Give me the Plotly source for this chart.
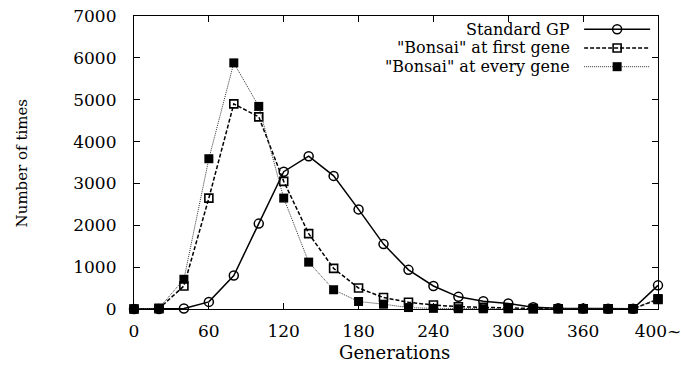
import plotly.graph_objects as go

generations = [0, 20, 40, 60, 80, 100, 120, 140, 160, 180, 200, 220, 240, 260, 280, 300,
               320, 340, 360, 380, 400, 420]
standard_gp = [0, 0, 10, 170, 800, 2040, 3280, 3650, 3180, 2380, 1550, 935, 550, 290, 185, 130,
               40, 20, 10, 5, 5, 565]
bonsai_first = [0, 10, 550, 2650, 4900, 4590, 3050, 1800, 970, 500, 275, 160, 95, 55, 40, 20,
                10, 5, 5, 5, 5, 230]
bonsai_every = [0, 20, 710, 3590, 5880, 4840, 2650, 1120, 460, 180, 115, 35, 15, 8, 5, 5,
                5, 5, 5, 5, 5, 250]
series_names = ["Standard GP", '"Bonsai" at first gene', '"Bonsai" at every gene']
x_tickvals = [0, 60, 120, 180, 240, 300, 360, 420]
x_ticktext = ["0", "60", "120", "180", "240", "300", "360", "400~"]
y_tickvals = [0, 1000, 2000, 3000, 4000, 5000, 6000, 7000]

FONT = "DejaVu Serif"
FS = 17
styles = [
    dict(line=dict(color="black", width=1.5, dash="solid"),
         marker=dict(symbol="circle-open", size=9, color="black", line=dict(width=1.5, color="black"))),
    dict(line=dict(color="black", width=1.5, dash="4px,2px"),
         marker=dict(symbol="square-open", size=8, color="black", line=dict(width=1.6, color="black"))),
    dict(line=dict(color="#333333", width=1, dash="1px,1px"),
         marker=dict(symbol="square", size=9, color="black", line=dict(width=0, color="black"))),
]

fig = go.Figure()
for name, ys, st in zip(series_names, [standard_gp, bonsai_first, bonsai_every], styles):
    fig.add_trace(go.Scatter(x=generations, y=ys, mode="lines+markers", name=name,
                             line=st["line"], marker=st["marker"], showlegend=False,
                             cliponaxis=False))

# manual legend: text right-aligned, line sample with marker to its right
legend_rows = [0.955, 0.891, 0.827]
annotations = []
for name, row, st in zip(series_names, legend_rows, styles):
    fig.add_trace(go.Scatter(x=[0.859, 0.985], y=[row, row], mode="lines",
                             xaxis="x2", yaxis="y2", line=st["line"],
                             showlegend=False, hoverinfo="skip"))
    fig.add_trace(go.Scatter(x=[0.922], y=[row], mode="markers",
                             xaxis="x2", yaxis="y2", marker=st["marker"],
                             showlegend=False, hoverinfo="skip"))
    annotations.append(dict(x=0.836, y=row, xref="paper", yref="paper", text=name,
                            showarrow=False, xanchor="right", yanchor="middle",
                            font=dict(family=FONT, size=16, color="black")))

annotations.append(dict(x=-0.2137, y=0.497, xref="paper", yref="paper", text="Number of times",
                        textangle=-90, showarrow=False, xanchor="center", yanchor="middle",
                        font=dict(family=FONT, size=15, color="black")))
annotations.append(dict(x=0.498, y=-0.1486, xref="paper", yref="paper", text="Generations",
                        showarrow=False, xanchor="center", yanchor="middle",
                        font=dict(family=FONT, size=18, color="black")))

fig.update_layout(
    width=681, height=367,
    margin=dict(l=134, r=23, t=16, b=58, autoexpand=False),
    paper_bgcolor="white", plot_bgcolor="white",
    font=dict(family=FONT, size=FS, color="black"),
    annotations=annotations,
    xaxis=dict(range=[0, 420], tickvals=x_tickvals, ticktext=x_ticktext,
               showline=True, linecolor="black", linewidth=1.2, mirror="allticks",
               ticks="inside", ticklen=6, tickcolor="black", showgrid=False, zeroline=False,
               ticklabelstandoff=6, ticklabeloverflow="allow", automargin=False,
               tickfont=dict(family=FONT, size=FS)),
    yaxis=dict(range=[0, 7000], tickvals=y_tickvals,
               showline=True, linecolor="black", linewidth=1.2, mirror="allticks",
               ticks="inside", ticklen=6, tickcolor="black", showgrid=False, zeroline=False,
               ticklabelstandoff=13, automargin=False, tickfont=dict(family=FONT, size=FS)),
    xaxis2=dict(range=[0, 1], overlaying="x", visible=False, fixedrange=True),
    yaxis2=dict(range=[0, 1], overlaying="y", visible=False, fixedrange=True),
)

fig.write_html("out.html")
